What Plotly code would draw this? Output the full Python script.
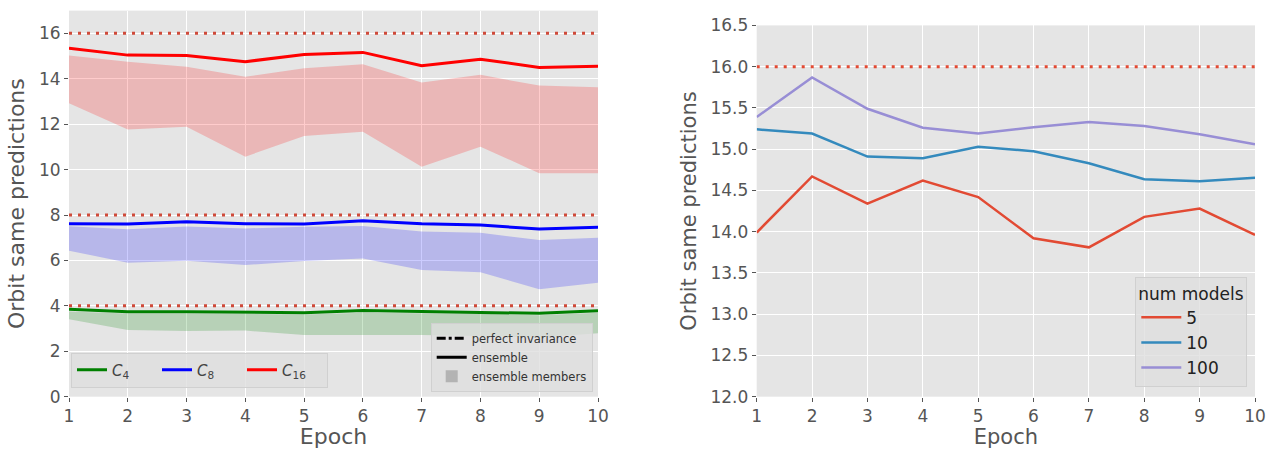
import plotly.graph_objects as go

# ---------------- data ----------------
epochs = [1, 2, 3, 4, 5, 6, 7, 8, 9, 10]

# left panel: ensemble lines and ensemble-member ranges
c4_ens = [3.85, 3.74, 3.74, 3.73, 3.70, 3.79, 3.76, 3.73, 3.67, 3.78]
c4_upper = [3.75, 3.66, 3.66, 3.65, 3.62, 3.70, 3.68, 3.65, 3.59, 3.70]
c4_lower = [3.41, 2.94, 2.89, 2.91, 2.72, 2.72, 2.72, 2.67, 2.61, 2.79]

c8_ens = [7.62, 7.60, 7.70, 7.62, 7.60, 7.75, 7.62, 7.56, 7.38, 7.46]
c8_upper = [7.50, 7.37, 7.49, 7.41, 7.48, 7.52, 7.27, 7.22, 6.90, 7.00]
c8_lower = [6.43, 5.90, 5.99, 5.80, 5.97, 6.09, 5.58, 5.48, 4.73, 5.02]

c16_ens = [15.34, 15.04, 15.02, 14.75, 15.07, 15.16, 14.57, 14.86, 14.50, 14.55]
c16_upper = [15.02, 14.75, 14.53, 14.09, 14.46, 14.64, 13.83, 14.17, 13.70, 13.62]
c16_lower = [12.92, 11.77, 11.89, 10.57, 11.48, 11.67, 10.13, 11.01, 9.84, 9.84]

invariance_levels = [4, 8, 16]

# right panel: ensemble size comparison
models_5 = [13.99, 14.67, 14.34, 14.62, 14.42, 13.92, 13.81, 14.18, 14.28, 13.96]
models_10 = [15.24, 15.19, 14.91, 14.89, 15.03, 14.975, 14.83, 14.635, 14.61, 14.655]
models_100 = [15.39, 15.87, 15.49, 15.26, 15.19, 15.265, 15.33, 15.28, 15.18, 15.06]
right_invariance = 16

# ---------------- figure ----------------
FONT = "DejaVu Sans"
fig = go.Figure()

groups = [
    ("<i>C</i><sub>4</sub>", c4_ens, c4_upper, c4_lower, "#008000", "rgba(0,128,0,0.2)"),
    ("<i>C</i><sub>8</sub>", c8_ens, c8_upper, c8_lower, "#0000ff", "rgba(0,0,255,0.2)"),
    ("<i>C</i><sub>16</sub>", c16_ens, c16_upper, c16_lower, "#ff0000", "rgba(255,0,0,0.2)"),
]

for name, ens, up, lo, col, fcol in groups:
    fig.add_trace(go.Scatter(x=epochs, y=lo, mode="lines", line=dict(width=0, color=fcol),
                             showlegend=False, hoverinfo="skip", xaxis="x", yaxis="y"))
    fig.add_trace(go.Scatter(x=epochs, y=up, mode="lines", line=dict(width=0, color=fcol),
                             fill="tonexty", fillcolor=fcol, showlegend=False,
                             hoverinfo="skip", xaxis="x", yaxis="y"))

for lvl in invariance_levels:
    fig.add_trace(go.Scatter(x=[epochs[0], epochs[-1]], y=[lvl, lvl], mode="lines",
                             line=dict(color="#cf4a3a", width=3, dash="3px,6px"),
                             showlegend=False, xaxis="x", yaxis="y"))

for name, ens, up, lo, col, fcol in groups:
    fig.add_trace(go.Scatter(x=epochs, y=ens, mode="lines", name=name,
                             line=dict(color=col, width=3), legend="legend",
                             xaxis="x", yaxis="y"))

# style legend (left panel, second legend)
fig.add_trace(go.Scatter(x=[None], y=[None], mode="lines", name="perfect invariance",
                         line=dict(color="black", width=3, dash="dashdot"),
                         legend="legend2", xaxis="x", yaxis="y"))
fig.add_trace(go.Scatter(x=[None], y=[None], mode="lines", name="ensemble",
                         line=dict(color="black", width=3),
                         legend="legend2", xaxis="x", yaxis="y"))
fig.add_trace(go.Bar(x=[None], y=[None], name="ensemble members",
                     marker=dict(color="rgba(160,160,160,0.7)", line=dict(width=0)),
                     legend="legend2", xaxis="x", yaxis="y"))

# right panel
fig.add_trace(go.Scatter(x=[epochs[0], epochs[-1]], y=[right_invariance, right_invariance],
                         mode="lines", line=dict(color="#E24A33", width=3, dash="3px,6px"),
                         showlegend=False, xaxis="x2", yaxis="y2"))
for name, vals, col in [("5", models_5, "#E24A33"), ("10", models_10, "#348ABD"),
                        ("100", models_100, "#988ED5")]:
    fig.add_trace(go.Scatter(x=epochs, y=vals, mode="lines", name=name,
                             line=dict(color=col, width=2.5), legend="legend3",
                             xaxis="x2", yaxis="y2"))

W, H = 1268, 449
axis_common = dict(
    showgrid=True, gridcolor="white", gridwidth=1, zeroline=False, automargin=False,
    ticks="outside", ticklen=4, tickcolor="#555555", showline=False,
    tickfont=dict(family=FONT, size=17, color="#555555"),
)

fig.update_layout(
    width=W, height=H,
    margin=dict(l=0, r=0, t=0, b=0, autoexpand=False),
    paper_bgcolor="white", plot_bgcolor="#E5E5E5",
    font=dict(family=FONT, color="#333333"),
    xaxis=dict(domain=[69 / W, 598 / W], range=[1, 10], tickvals=epochs, anchor="y",
               title=dict(text="Epoch", font=dict(family=FONT, size=22, color="#555555"), standoff=3),
               **axis_common),
    yaxis=dict(domain=[(H - 396.7) / H, (H - 10.6) / H], range=[0, 17],
               tickvals=[0, 2, 4, 6, 8, 10, 12, 14, 16], anchor="x",
               title=dict(text="Orbit same predictions", font=dict(family=FONT, size=22, color="#555555"), standoff=8),
               **axis_common),
    xaxis2=dict(domain=[756.7 / W, 1255 / W], range=[1, 10], tickvals=epochs, anchor="y2",
                title=dict(text="Epoch", font=dict(family=FONT, size=21, color="#555555"), standoff=3),
                **axis_common),
    yaxis2=dict(domain=[(H - 396.7) / H, (H - 25.4) / H], range=[12, 16.5], dtick=0.5,
                tickformat=".1f", anchor="x2",
                title=dict(text="Orbit same predictions", font=dict(family=FONT, size=21, color="#555555"), standoff=8),
                **axis_common),
    legend=dict(orientation="h", x=71 / W, xanchor="left", y=(H - 370) / H, yanchor="middle",
                traceorder="normal", entrywidth=40, entrywidthmode="pixels",
                bgcolor="rgba(222,222,222,0.8)", bordercolor="#d0d0d0", borderwidth=1,
                font=dict(family=FONT, size=15, color="#444444"), itemwidth=30),
    legend2=dict(x=592.7 / W, xanchor="right", y=(H - 391.7) / H, yanchor="bottom",
                 traceorder="normal",
                 bgcolor="rgba(222,222,222,0.8)", bordercolor="#d0d0d0", borderwidth=1,
                 font=dict(family=FONT, size=11.5, color="#333333"), tracegroupgap=0,
                 itemwidth=30),
    legend3=dict(x=1247.3 / W, xanchor="right", y=(H - 386.7) / H, yanchor="bottom",
                 traceorder="normal",
                 bgcolor="rgba(222,222,222,0.8)", bordercolor="#d0d0d0", borderwidth=1,
                 title=dict(text="num models", font=dict(family=FONT, size=17, color="#222222"), side="top"),
                 font=dict(family=FONT, size=17, color="#222222"), itemwidth=40),
)

fig.write_html("out.html", config={"displayModeBar": False},
               post_script="document.body.style.margin='0px';document.body.style.overflow='hidden';")
